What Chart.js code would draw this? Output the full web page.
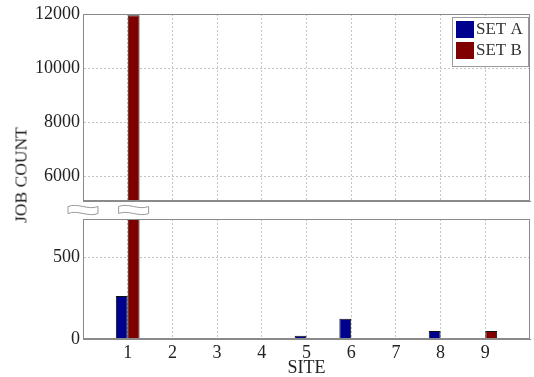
<!DOCTYPE html>
<html>
<head>
<meta charset="utf-8">
<script src="https://cdn.jsdelivr.net/npm/chart.js@4.4.0/dist/chart.umd.min.js"></script>
<style>
  body { margin: 0; background: #fff; }
  #wrap { position: relative; width: 534px; height: 377px; background: #fff; overflow: hidden; }
  #topBox { position: absolute; left: 0; top: 0; }
  #botBox { position: absolute; left: 0; top: 201px; }
  #ytitle {
    position: absolute; left: 21px; top: 175px;
    transform: translate(-50%, -50%) rotate(-90deg);
    font: 17.5px "Liberation Serif", serif; color: #222; white-space: nowrap;
  }
</style>
</head>
<body>
<div id="wrap">
  <div id="topBox"><canvas id="topChart" width="534" height="203"></canvas></div>
  <div id="botBox"><canvas id="botChart" width="534" height="178"></canvas></div>
  <div id="ytitle">JOB COUNT</div>
</div>
<script>
// данные
const sites = [1, 2, 3, 4, 5, 6, 7, 8, 9];
const setA = [262, 0, 0, 0, 20, 124, 3, 49, 3];
const setB = [11950, 0, 0, 0, 0, 0, 0, 0, 49];
const seriesNames = ['SET A', 'SET B'];
const seriesColors = ['#00008f', '#800000'];
const topTicks = [6000, 8000, 10000, 12000];
const bottomTicks = [0, 500];

const FONT = 'Liberation Serif';
const GRID = '#c4c4c4';
const FRAME = '#8a8a8a';

function makeDatasets() {
  return [setA, setB].map((vals, k) => ({
    label: seriesNames[k],
    data: sites.map((s, i) => ({ x: s, y: vals[i] })),
    backgroundColor: seriesColors[k],
    borderColor: '#111',
    borderWidth: 1,
    categoryPercentage: 0.53,
    barPercentage: 1.0,
    clip: 0
  }));
}

// рамка вокруг области графика
const framePlugin = {
  id: 'frame',
  afterDraw(chart) {
    const { ctx, chartArea: a } = chart;
    ctx.save();
    ctx.strokeStyle = FRAME;
    ctx.lineWidth = 1;
    ctx.strokeRect(a.left + 0.5, a.top + 0.5, a.right - a.left - 1, a.bottom - a.top - 1);
    ctx.restore();
  }
};

// легенда в рамке, как в matlab
const legendPlugin = {
  id: 'boxLegend',
  afterDraw(chart) {
    const { ctx, chartArea: a } = chart;
    const lw = 76, lh = 49;
    const lx = a.right - lw - 2, ly = a.top + 3;
    ctx.save();
    ctx.fillStyle = '#fff';
    ctx.fillRect(lx, ly, lw, lh);
    ctx.strokeStyle = '#9a9a9a';
    ctx.lineWidth = 1;
    ctx.strokeRect(lx + 0.5, ly + 0.5, lw, lh);
    ctx.font = '17px "' + FONT + '"';
    ctx.textBaseline = 'middle';
    chart.data.datasets.forEach((ds, i) => {
      const y = ly + 4 + i * 21;
      ctx.fillStyle = ds.backgroundColor;
      ctx.fillRect(lx + 4, y, 18, 17);
      ctx.fillStyle = '#333';
      ctx.fillText(ds.label, lx + 24, y + 9);
    });
    ctx.restore();
  }
};

// значки разрыва оси
function breakMark(ctx, cx, cy) {
  const w = 15, h = 3.5;
  ctx.beginPath();
  ctx.moveTo(cx - w, cy - h);
  ctx.bezierCurveTo(cx - 5, cy - h - 4, cx + 5, cy - h + 4, cx + w, cy - h);
  ctx.lineTo(cx + w, cy + h);
  ctx.bezierCurveTo(cx + 5, cy + h + 4, cx - 5, cy + h - 4, cx - w, cy + h);
  ctx.closePath();
  ctx.fillStyle = '#fff';
  ctx.fill();
  ctx.strokeStyle = '#999';
  ctx.lineWidth = 1;
  ctx.stroke();
}

const breakPlugin = {
  id: 'axisBreak',
  afterDraw(chart) {
    const { ctx, chartArea: a } = chart;
    const bar = chart.getDatasetMeta(1).data[0];
    const cy = a.top - 9;
    ctx.save();
    breakMark(ctx, a.left, cy);
    breakMark(ctx, bar.x, cy);
    ctx.restore();
  }
};

function xScale(showLabels) {
  return {
    type: 'linear',
    min: 0,
    max: 10,
    offset: false,
    afterBuildTicks: s => { s.ticks = sites.map(v => ({ value: v })); },
    afterFit: s => {
      s.height = showLabels ? 40 : 0;
      s.paddingLeft = 0;
      s.paddingRight = 0;
    },
    grid: { color: GRID, drawTicks: false, offset: false },
    border: { color: FRAME, dash: [2, 2] },
    ticks: {
      display: showLabels,
      padding: 3,
      color: '#222',
      font: { family: FONT, size: 18 },
      callback: v => String(v)
    },
    title: {
      display: showLabels,
      text: 'SITE',
      color: '#222',
      padding: { top: 0, bottom: 0 },
      font: { family: FONT, size: 18 }
    }
  };
}

function yScale(min, max, ticks) {
  return {
    min: min,
    max: max,
    afterBuildTicks: s => { s.ticks = ticks.map(v => ({ value: v })); },
    afterFit: s => {
      s.width = 83;
      s.paddingTop = 0;
      s.paddingBottom = 0;
    },
    grid: { color: GRID, drawTicks: false },
    border: { color: FRAME, dash: [2, 2] },
    ticks: {
      padding: 3,
      color: '#222',
      font: { family: FONT, size: 18 },
      callback: v => String(v)
    }
  };
}

new Chart(document.getElementById('topChart'), {
  type: 'bar',
  data: { datasets: makeDatasets() },
  options: {
    responsive: false,
    animation: false,
    layout: { padding: { top: 14, right: 4, bottom: 2, left: 0 } },
    plugins: { legend: { display: false }, tooltip: { enabled: false } },
    scales: { x: xScale(false), y: yScale(5100, 12000, topTicks) }
  },
  plugins: [framePlugin, legendPlugin]
});

new Chart(document.getElementById('botChart'), {
  type: 'bar',
  data: { datasets: makeDatasets() },
  options: {
    responsive: false,
    animation: false,
    layout: { padding: { top: 18, right: 4, bottom: 0, left: 0 } },
    plugins: { legend: { display: false }, tooltip: { enabled: false } },
    scales: { x: xScale(true), y: yScale(0, 732, bottomTicks) }
  },
  plugins: [framePlugin, breakPlugin]
});
</script>
</body>
</html>
